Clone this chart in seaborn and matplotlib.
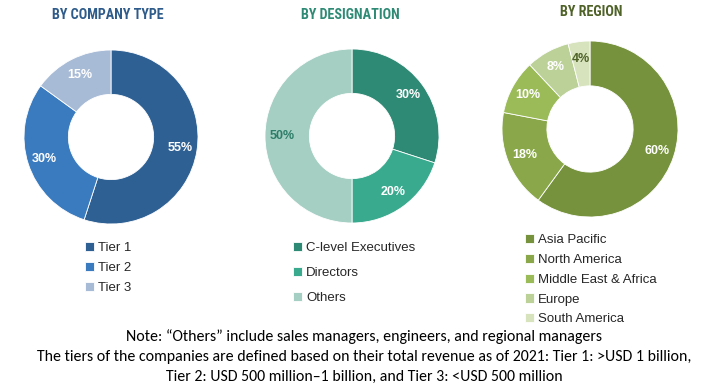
import numpy as np
import pandas as pd
import seaborn as sns
import matplotlib.pyplot as plt
from matplotlib import font_manager

# data
company_types = ['Tier 1', 'Tier 2', 'Tier 3']
company_share = [55, 30, 15]

designations = ['C-level Executives', 'Directors', 'Others']
designation_share = [30, 20, 50]

regions = ['Asia Pacific', 'North America', 'Middle East & Africa', 'Europe', 'South America']
region_share = [60, 18, 10, 8, 4]

note_lines = [
    'Note: \u201cOthers\u201d include sales managers, engineers, and regional managers',
    'The tiers of the companies are defined based on their total revenue as of 2021: Tier 1: >USD 1 billion,',
    'Tier 2: USD 500 million\u20131 billion, and Tier 3: <USD 500 million',
]

sns.set_theme(style='white')
plt.rcParams['font.family'] = ['Liberation Sans', 'DejaVu Sans']

blues = sns.color_palette(['#2E6094', '#3A7BBF', '#A7BAD6'])
greens = sns.color_palette(['#2E8A74', '#3AAA8F', '#A5CFC3'])
olives = sns.color_palette(['#76923C', '#8AA84A', '#9BBB59', '#BCD198', '#D6E3BC'])

# condensed font for titles if there is one
installed = {f.name for f in font_manager.fontManager.ttflist}
title_font = [f for f in ['Roboto Condensed', 'DejaVu Sans Condensed', 'Liberation Sans Narrow']
              if f in installed] + ['Liberation Sans']
title_size = 10.2 if title_font[0] != 'Liberation Sans' else 9.5

W, H = 728, 392
fig = plt.figure(figsize=(W / 100, H / 100), dpi=100)
fig.patch.set_facecolor('white')


def px_axes(cx, cy, r):
    return fig.add_axes([(cx - r) / W, (H - cy - r) / H, 2 * r / W, 2 * r / H])


def donut(ax, vals, cols, label_cols):
    wedges, _, autotexts = ax.pie(vals, colors=cols, startangle=90, counterclock=False,
                                  autopct='%d%%', pctdistance=0.8,
                                  wedgeprops=dict(width=0.51, edgecolor='white', linewidth=0.6),
                                  textprops=dict(fontsize=9, fontweight='bold'))
    for t, c in zip(autotexts, label_cols):
        t.set_color(c)
    ax.set_xlim(-1, 1)
    ax.set_ylim(-1, 1)
    ax.set_aspect('equal')
    ax.axis('off')
    return wedges


ax1 = px_axes(111, 137, 87)
w1 = donut(ax1, company_share, blues, ['white'] * 3)
ax2 = px_axes(352, 136, 87)
w2 = donut(ax2, designation_share, greens, ['white', 'white', '#2E7D68'])
ax3 = px_axes(590, 129, 88)
w3 = donut(ax3, region_share, olives, ['white'] * 4 + ['#4F6228'])

# titles
fig.text(108 / W, 1 - 15 / H, 'BY COMPANY TYPE', ha='center', va='center', fontsize=title_size,
         fontweight='bold', color='#2E5B8A', family=title_font)
fig.text(350 / W, 1 - 15 / H, 'BY DESIGNATION', ha='center', va='center', fontsize=title_size,
         fontweight='bold', color='#2E8A74', family=title_font)
fig.text(591 / W, 1 - 12 / H, 'BY REGION', ha='center', va='center', fontsize=title_size,
         fontweight='bold', color='#4F6228', family=title_font)

# legends
def add_legend(wedges, labels, x, y, spacing):
    leg = fig.legend(wedges, labels, loc='upper left', bbox_to_anchor=(x / W, 1 - y / H),
                     frameon=False, fontsize=9.5, handlelength=0.7, handleheight=0.7,
                     handletextpad=0.3, labelspacing=spacing, borderpad=0, borderaxespad=0)
    return leg

add_legend(w1, company_types, 85, 242, 0.58)
add_legend(w2, designations, 293, 242, 0.95)
add_legend(w3, regions, 525, 234, 0.57)

# note
for i, line in enumerate(note_lines):
    fig.text(364 / W, 1 - (337 + 20 * i) / H, line, ha='center', va='center',
             fontsize=11.4, color='black', family=['Carlito', 'Lato', 'DejaVu Sans'])

fig.savefig('out.png', dpi=100, facecolor='white')
